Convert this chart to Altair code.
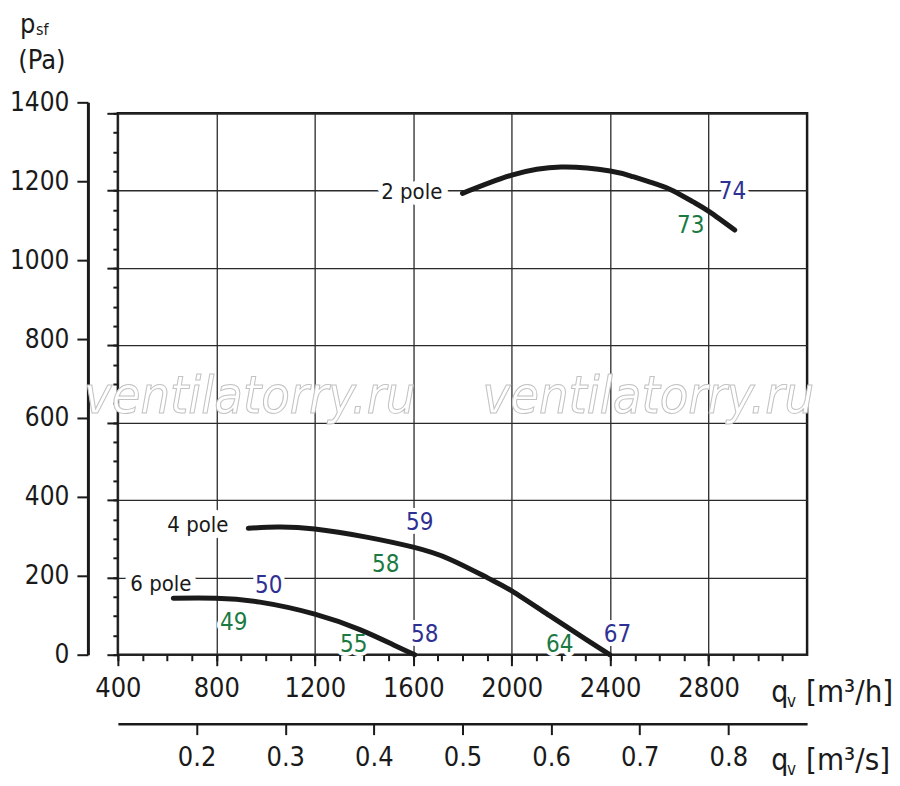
import altair as alt
import pandas as pd

# ---------------- data ----------------
q_2pole = [1800, 2000, 2200, 2400, 2493, 2588, 2655, 2737, 2804, 2906]
p_2pole = [1193, 1240, 1261, 1251, 1236, 1217, 1200, 1171, 1145, 1098]
q_4pole = [930, 1050, 1200, 1410, 1600, 1748, 1904, 2003, 2154, 2303, 2398]
p_4pole = [327, 330, 325, 304, 278, 247, 198, 164, 101, 39, 0]
q_6pole = [625, 798, 977, 1200, 1383, 1518, 1606]
p_6pole = [146, 146, 136, 105, 65, 26, 0]

pole_labels = ["2 pole", "4 pole", "6 pole"]
pole_label_q = [1594, 725, 575]
pole_label_p = [1196, 336, 183]

eff_text = ["74", "73", "59", "58", "50", "49", "55", "58", "64", "67"]
eff_kind = ["blue", "green", "blue", "green", "blue", "green", "green", "blue", "green", "blue"]
eff_q = [2897, 2727, 1626, 1488, 1013, 871, 1358, 1647, 2195, 2430]
eff_p = [1196, 1108, 341, 232, 178, 83, 26, 52, 26, 52]

x_ticks_major = [400, 800, 1200, 1600, 2000, 2400, 2800]
x_ticks_minor = list(range(400, 3200, 100))
y_ticks_major = list(range(0, 1401, 200))
y_ticks_minor = list(range(0, 1401, 50))
x2_ticks = [0.2, 0.3, 0.4, 0.5, 0.6, 0.7, 0.8]

# ---------------- styling ----------------
FONT = "DejaVu Sans Condensed"
INK = "#1a1a1a"
BLUE = "#2e3192"
GREEN = "#1b7a43"
W, H = 690, 542
LABEL_SIZE = 27

curves = pd.DataFrame({
    "q": q_2pole + q_4pole + q_6pole,
    "p": p_2pole + p_4pole + p_6pole,
    "series": ["2 pole"] * len(q_2pole) + ["4 pole"] * len(q_4pole) + ["6 pole"] * len(q_6pole),
})
poles = pd.DataFrame({"t": pole_labels, "q": pole_label_q, "p": pole_label_p})
effs = pd.DataFrame({"t": eff_text, "kind": eff_kind, "q": eff_q, "p": eff_p})

XS = alt.Scale(domain=[400, 3200], nice=False, zero=False)
YS = alt.Scale(domain=[0, 1400], nice=False, zero=False)


def ax(**kw):
    base = dict(title=None, domain=False, grid=False, labels=False,
                tickColor=INK, tickWidth=2, labelFont=FONT, labelColor=INK,
                labelFontSize=LABEL_SIZE)
    base.update(kw)
    return alt.Axis(**base)


# grid + major ticks on the frame
grid_layer = alt.Chart(curves).mark_point(opacity=0).encode(
    x=alt.X("q:Q", scale=XS, axis=ax(orient="bottom", values=x_ticks_major, tickSize=11,
                                     format="d", labels=True, labelPadding=10, labelFlush=False,
                                     grid=True, gridColor="#2a2a2a", gridWidth=1.3)),
    y=alt.Y("p:Q", scale=YS, axis=ax(orient="left", values=y_ticks_major, tickSize=11,
                                     grid=True, gridColor="#2a2a2a", gridWidth=1.3)),
)

# minor ticks on the frame
minor_layer = alt.Chart(curves).mark_point(opacity=0).encode(
    x=alt.X("q:Q", scale=XS, axis=ax(orient="bottom", values=x_ticks_minor, tickSize=6)),
    y=alt.Y("p:Q", scale=YS, axis=ax(orient="left", values=y_ticks_minor, tickSize=5)),
)

# outer labelled pressure axis and m3/s axis
outer_layer = alt.Chart(curves).transform_calculate(qs="datum.q / 3600").mark_point(opacity=0).encode(
    x=alt.X("qs:Q", scale=alt.Scale(domain=[400 / 3600, 3200 / 3600], nice=False, zero=False),
            axis=ax(orient="bottom", offset=69, values=x2_ticks, format=".1f", tickSize=11,
                    labels=True, labelPadding=10, labelFlush=False,
                    domain=True, domainColor=INK, domainWidth=2.5)),
    y=alt.Y("p:Q", scale=alt.Scale(domain=[0, 1400], range=[H, -11], nice=False, zero=False),
            axis=ax(orient="left", offset=30, values=y_ticks_major, tickSize=11, format="d",
                    labels=True, labelPadding=8, labelFontSize=26,
                    domain=True, domainColor=INK, domainWidth=3)),
)

curve_layer = alt.Chart(curves).mark_line(
    color=INK, strokeWidth=5, interpolate="natural", strokeCap="round"
).encode(
    x=alt.X("q:Q", scale=XS, axis=None),
    y=alt.Y("p:Q", scale=YS, axis=None),
    detail="series:N",
)


def pix_text(s, x, y, size, align="left", baseline="alphabetic", **kw):
    return alt.Chart(alt.Data(values=[{"t": s}])).mark_text(
        font=FONT, fontSize=size, color=INK, align=align, baseline=baseline, **kw
    ).encode(x=alt.value(x), y=alt.value(y), text="t:N")


watermark = [
    pix_text("ventilatorry.ru", xv, 284, 52, align="center", baseline="middle",
             fontStyle="italic", fill="white", stroke="#c2c2c2", strokeWidth=1)
    for xv in (132, 531)
]

pole_halo = alt.Chart(poles).mark_text(
    font=FONT, fontSize=22, stroke="white", strokeWidth=13, strokeJoin="round", color="white"
).encode(x=alt.X("q:Q", scale=XS, axis=None), y=alt.Y("p:Q", scale=YS, axis=None), text="t:N")
pole_text = alt.Chart(poles).mark_text(font=FONT, fontSize=22, color=INK).encode(
    x=alt.X("q:Q", scale=XS, axis=None), y=alt.Y("p:Q", scale=YS, axis=None), text="t:N")

eff_halo = alt.Chart(effs).mark_text(
    font=FONT, fontSize=24, stroke="white", strokeWidth=8, strokeJoin="round", color="white"
).encode(x=alt.X("q:Q", scale=XS, axis=None), y=alt.Y("p:Q", scale=YS, axis=None), text="t:N")
eff_text_layer = alt.Chart(effs).mark_text(font=FONT, fontSize=24).encode(
    x=alt.X("q:Q", scale=XS, axis=None), y=alt.Y("p:Q", scale=YS, axis=None), text="t:N",
    color=alt.Color("kind:N", scale=alt.Scale(domain=["blue", "green"], range=[BLUE, GREEN]), legend=None),
)

titles = [
    pix_text("p", -98, -80, 27),
    pix_text("sf", -82, -78, 16),
    pix_text("(Pa)", -76, -52, 27, align="center", baseline="middle"),
    pix_text("q", 654, 589, 30),
    pix_text("v", 670, 594, 17),
    pix_text("[m³/h]", 689, 589, 31),
    pix_text("q", 654, 657, 30),
    pix_text("v", 670, 662, 17),
    pix_text("[m³/s]", 689, 657, 31),
]

chart = alt.layer(
    grid_layer, minor_layer, outer_layer, *watermark,
    pole_halo, eff_halo, curve_layer, pole_text, eff_text_layer, *titles,
).resolve_scale(
    x="independent", y="independent"
).properties(
    width=W, height=H,
    padding={"left": 110, "top": 105, "right": 85, "bottom": 125},
    autosize=alt.AutoSizeParams(type="none"),
).configure_view(stroke=INK, strokeWidth=2.5)

chart.save("out.html", embed_options={"renderer": "svg", "actions": False})
